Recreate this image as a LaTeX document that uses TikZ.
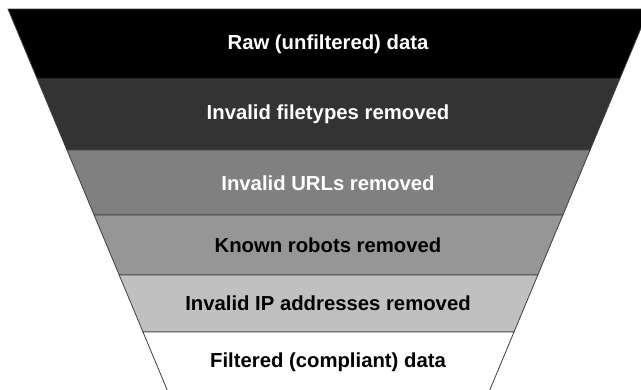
\documentclass[tikz,border=0pt]{standalone}
\usepackage{fontspec}
\setmainfont{Liberation Sans}
\definecolor{edgegray}{HTML}{404040}
\definecolor{bandA}{HTML}{000000}
\definecolor{bandB}{HTML}{333333}
\definecolor{bandC}{HTML}{808080}
\definecolor{bandD}{HTML}{969696}
\definecolor{bandE}{HTML}{C0C0C0}
\definecolor{bandF}{HTML}{FFFFFF}
\begin{document}
\begin{tikzpicture}[x=1pt,y=-1pt,
  band/.style={draw=edgegray, line width=0.8pt, line join=miter},
  lbl/.style={font=\fontsize{20.3}{24}\selectfont\bfseries, inner sep=0pt}]
\useasboundingbox (0,0) rectangle (641,389);
\fill[white] (0,0) rectangle (641,389);
\begin{scope}
\clip (0,0) rectangle (641,389);
\filldraw[band, fill=bandA] (8,9) -- (649,9) -- (619.74,79) -- (37.26,79) -- cycle;
\filldraw[band, fill=bandB] (37.26,79) -- (619.74,79) -- (590.06,150) -- (66.94,150) -- cycle;
\filldraw[band, fill=bandC] (66.94,150) -- (590.06,150) -- (562.89,215) -- (94.11,215) -- cycle;
\filldraw[band, fill=bandD] (94.11,215) -- (562.89,215) -- (537.81,275) -- (119.19,275) -- cycle;
\filldraw[band, fill=bandE] (119.19,275) -- (537.81,275) -- (513.99,332) -- (143.01,332) -- cycle;
\filldraw[band, fill=bandF] (143.01,332) -- (513.99,332) -- (485.6,400) -- (171.4,400) -- cycle;
\end{scope}
\node[lbl, text=white] (raw) at (328,44) {Raw (unfiltered) data};
\node[lbl, text=white] (ftypes) at (328,114.5) {Invalid filetypes removed};
\node[lbl, text=white] (urls) at (328,183) {Invalid URLs removed};
\node[lbl, text=black] (robots) at (328,245) {Known robots removed};
\node[lbl, text=black] (ips) at (328,303.5) {Invalid IP addresses removed};
\node[lbl, text=black] (filtered) at (328,362) {Filtered (compliant) data};
\end{tikzpicture}
\end{document}
